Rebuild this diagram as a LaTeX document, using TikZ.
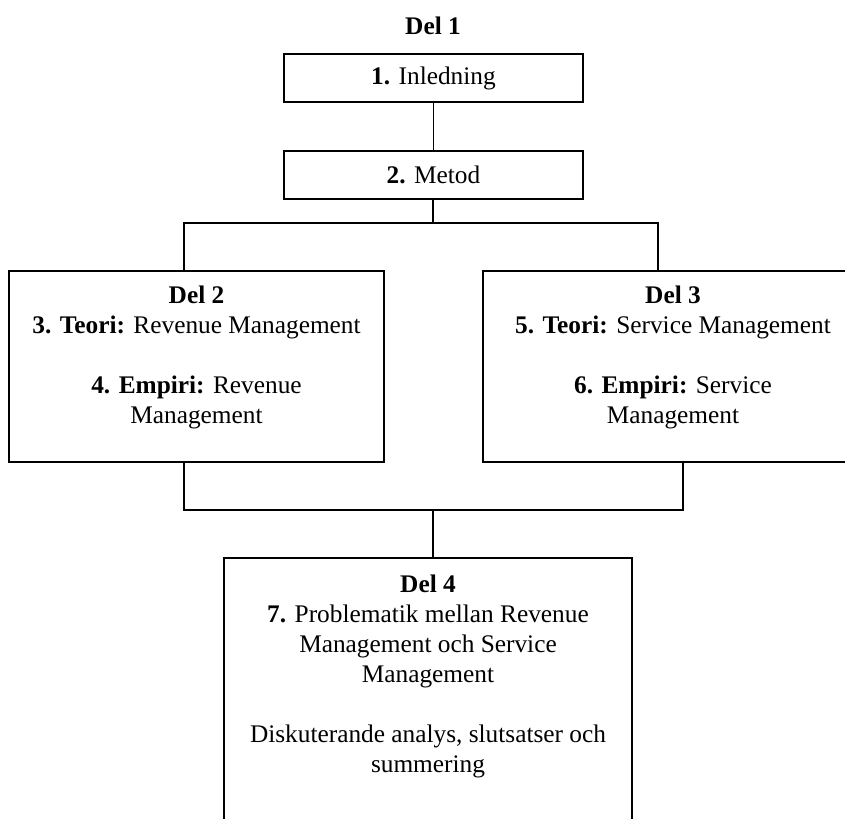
\documentclass[tikz,border=0pt]{standalone}
\usepackage{fontspec}
\setmainfont{Liberation Serif}
\usetikzlibrary{positioning}
\tikzstyle{part} = [
  draw=black,
  line width=1.3pt,
  inner sep=0pt,
]
\tikzstyle{parttext} = [
  align=center,
  inner sep=0pt,
  font=\fontsize{19pt}{22.5pt}\selectfont,
]
\tikzstyle{joint} = [
  line width=1.3pt,
]

\begin{document}
\begin{tikzpicture}[x=0.75pt,y=-0.75pt]
      \clip (0,0) rectangle (845,818);

      % Del 1
      \node[parttext] (del1) at (433,26) {\textbf{Del 1}};
      \node[part,parttext,minimum width=299*0.75pt,minimum height=48*0.75pt] (intro) at (433.5,78) {\textbf{1.} Inledning};
      \node[part,parttext,minimum width=299*0.75pt,minimum height=48*0.75pt] (method) at (433.5,175) {\textbf{2.} Metod};

      % Del 2 and Del 3
      \node[part,minimum width=375*0.75pt,minimum height=191*0.75pt] (revbox) at (196.5,366.5) {};
      \node[parttext,anchor=north,below=16*0.75pt of revbox.north] (revtext)
        {\textbf{Del 2}\\\textbf{3. Teori:} Revenue Management\\[22.5pt]
         \textbf{4. Empiri:} Revenue\\Management};
      \node[part,minimum width=380*0.75pt,minimum height=191*0.75pt] (servbox) at (673,366.5) {};
      \node[parttext,anchor=north,below=16*0.75pt of servbox.north] (servtext)
        {\textbf{Del 3}\\\textbf{5. Teori:} Service Management\\[22.5pt]
         \textbf{6. Empiri:} Service\\Management};

      % Del 4
      \node[part,minimum width=408*0.75pt,minimum height=300*0.75pt] (probbox) at (428,708) {};
      \node[parttext,anchor=north,below=18*0.75pt of probbox.north] (probtext)
        {\textbf{Del 4}\\\textbf{7.} Problematik mellan Revenue\\Management och Service\\Management\\[22.5pt]
         Diskuterande analys, slutsatser och\\summering};

      % Connectors
      \coordinate (upmid) at (433,223);
      \coordinate (upleft) at (184,223);
      \coordinate (upright) at (658,223);
      \coordinate (lowmid) at (433,510);
      \coordinate (lowleft) at (184,510);
      \coordinate (lowright) at (683,510);

      \draw[joint] (intro.south) -- (method.north);
      \draw[joint] (upmid |- method.south) -- (upmid);
      \draw[joint] (upleft |- revbox.north) -- (upleft) -- (upright) -- (upright |- servbox.north);
      \draw[joint] (lowleft |- revbox.south) -- (lowleft) -- (lowright) -- (lowright |- servbox.south);
      \draw[joint] (lowmid) -- (lowmid |- probbox.north);
    \end{tikzpicture}
\end{document}
